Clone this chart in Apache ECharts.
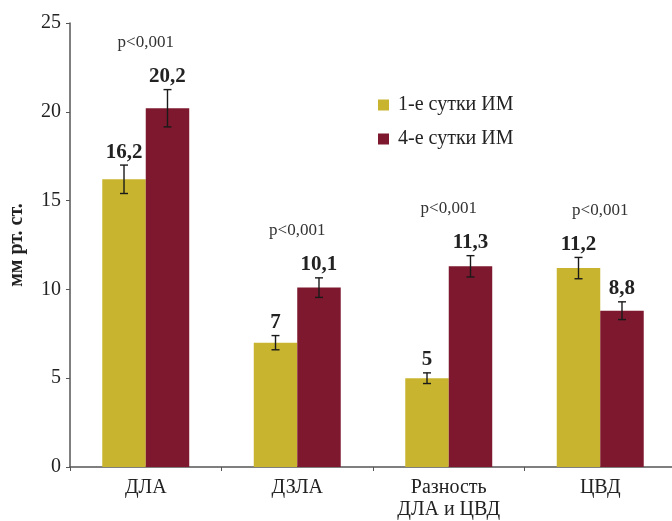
<!DOCTYPE html>
<html>
<head>
<meta charset="utf-8">
<script src="https://cdnjs.cloudflare.com/ajax/libs/echarts/6.0.0/echarts.min.js"></script>
<style>
    html, body { margin: 0; padding: 0; background: #fff; }
    #chart1 { width: 672px; height: 521px; }
</style>
</head>
<body>
<div id="chart1"></div>
<script>
    // данные графика
    var categories = ['ДЛА', 'ДЗЛА', 'Разность\nДЛА и ЦВД', 'ЦВД'];
    var seriesNames = ['1-е сутки ИМ', '4-е сутки ИМ'];
    var day1 = [16.2, 7, 5, 11.2];
    var day4 = [20.2, 10.1, 11.3, 8.8];
    var day1Err = [0.8, 0.4, 0.3, 0.6];
    var day4Err = [1.05, 0.55, 0.6, 0.5];
    var pLabels = ['p<0,001', 'p<0,001', 'p<0,001', 'p<0,001'];
    var yTicks = [0, 5, 10, 15, 20, 25];

    var serif = '"Liberation Serif", "DejaVu Serif", serif';
    var catGap = 0.426;

    function fmt(v) { return String(v).replace('.', ','); }

    var errData = [];
    for (var i = 0; i < categories.length; i++) {
        errData.push([i, day1[i], day1Err[i], day4[i], day4Err[i]]);
    }

    // планки погрешностей, подписи значений и p
    function renderErr(params, api) {
        var idx = api.value(0);
        var band = api.size([1, 0])[0];
        var barW = band * (1 - catGap) / 2;
        var kids = [];
        var tops = [];
        var vals = [[api.value(1), api.value(2)], [api.value(3), api.value(4)]];
        for (var k = 0; k < 2; k++) {
            var v = vals[k][0], e = vals[k][1];
            var c = api.coord([idx, v]);
            var x = c[0] + (k === 0 ? -barW / 2 : barW / 2);
            var yHi = api.coord([idx, v + e])[1];
            var yLo = api.coord([idx, v - e])[1];
            tops.push(yHi);
            var st = { stroke: '#1a1a1a', lineWidth: 1.4 };
            kids.push({ type: 'line', shape: { x1: x, y1: yHi, x2: x, y2: yLo }, style: st });
            kids.push({ type: 'line', shape: { x1: x - 4, y1: yHi, x2: x + 4, y2: yHi }, style: st });
            kids.push({ type: 'line', shape: { x1: x - 4, y1: yLo, x2: x + 4, y2: yLo }, style: st });
            kids.push({
                type: 'text',
                style: {
                    text: fmt(v), x: x, y: yHi - 13,
                    align: 'center', verticalAlign: 'middle',
                    font: 'bold 21px ' + serif, fill: '#222'
                }
            });
        }
        var cx = api.coord([idx, 0])[0];
        kids.push({
            type: 'text',
            style: {
                text: pLabels[idx], x: cx, y: Math.min(tops[0], tops[1]) - 47,
                align: 'center', verticalAlign: 'middle',
                font: '17px ' + serif, fill: '#333'
            }
        });
        return { type: 'group', children: kids };
    }

    var myChart = echarts.init(document.getElementById('chart1'));
    var option = {
        backgroundColor: '#fff',
        animation: false,
        grid: { left: 70, top: 23, width: 606, height: 444, containLabel: false, outerBoundsMode: 'none' },
        legend: {
            orient: 'vertical',
            left: 373,
            top: 90,
            itemWidth: 11,
            itemHeight: 11,
            itemGap: 14,
            icon: 'rect',
            data: seriesNames,
            textStyle: { fontFamily: serif, fontSize: 20, color: '#222', padding: [0, 0, 0, 4] }
        },
        xAxis: {
            type: 'category',
            data: categories,
            axisLine: { lineStyle: { color: '#555', width: 1.5 } },
            axisTick: { show: true, length: 4, lineStyle: { color: '#555' } },
            axisLabel: { fontFamily: serif, fontSize: 20, color: '#222', margin: 10, lineHeight: 22 }
        },
        yAxis: {
            type: 'value',
            min: 0,
            max: 25,
            interval: 5,
            name: 'мм рт. ст.',
            nameLocation: 'middle',
            nameRotate: 90,
            nameGap: 43,
            nameTextStyle: { fontFamily: serif, fontSize: 20, fontWeight: 'bold', color: '#222' },
            axisLine: { show: true, lineStyle: { color: '#555', width: 1.5 } },
            axisTick: { show: true, length: 4, lineStyle: { color: '#555' } },
            splitLine: { show: false },
            axisLabel: {
                fontFamily: serif, fontSize: 20, color: '#222', margin: 9,
                formatter: function (v) { return yTicks.indexOf(v) >= 0 ? String(v) : ''; }
            }
        },
        series: [
            {
                name: seriesNames[0], type: 'bar', data: day1,
                barGap: 0, barCategoryGap: (catGap * 100) + '%',
                itemStyle: { color: '#c8b42e' }
            },
            {
                name: seriesNames[1], type: 'bar', data: day4,
                barGap: 0, barCategoryGap: (catGap * 100) + '%',
                itemStyle: { color: '#7d182e' }
            },
            {
                type: 'custom', data: errData, renderItem: renderErr,
                encode: { x: 0, y: 1 }, z: 10, silent: true
            }
        ]
    };
    myChart.setOption(option);
</script>
</body>
</html>
